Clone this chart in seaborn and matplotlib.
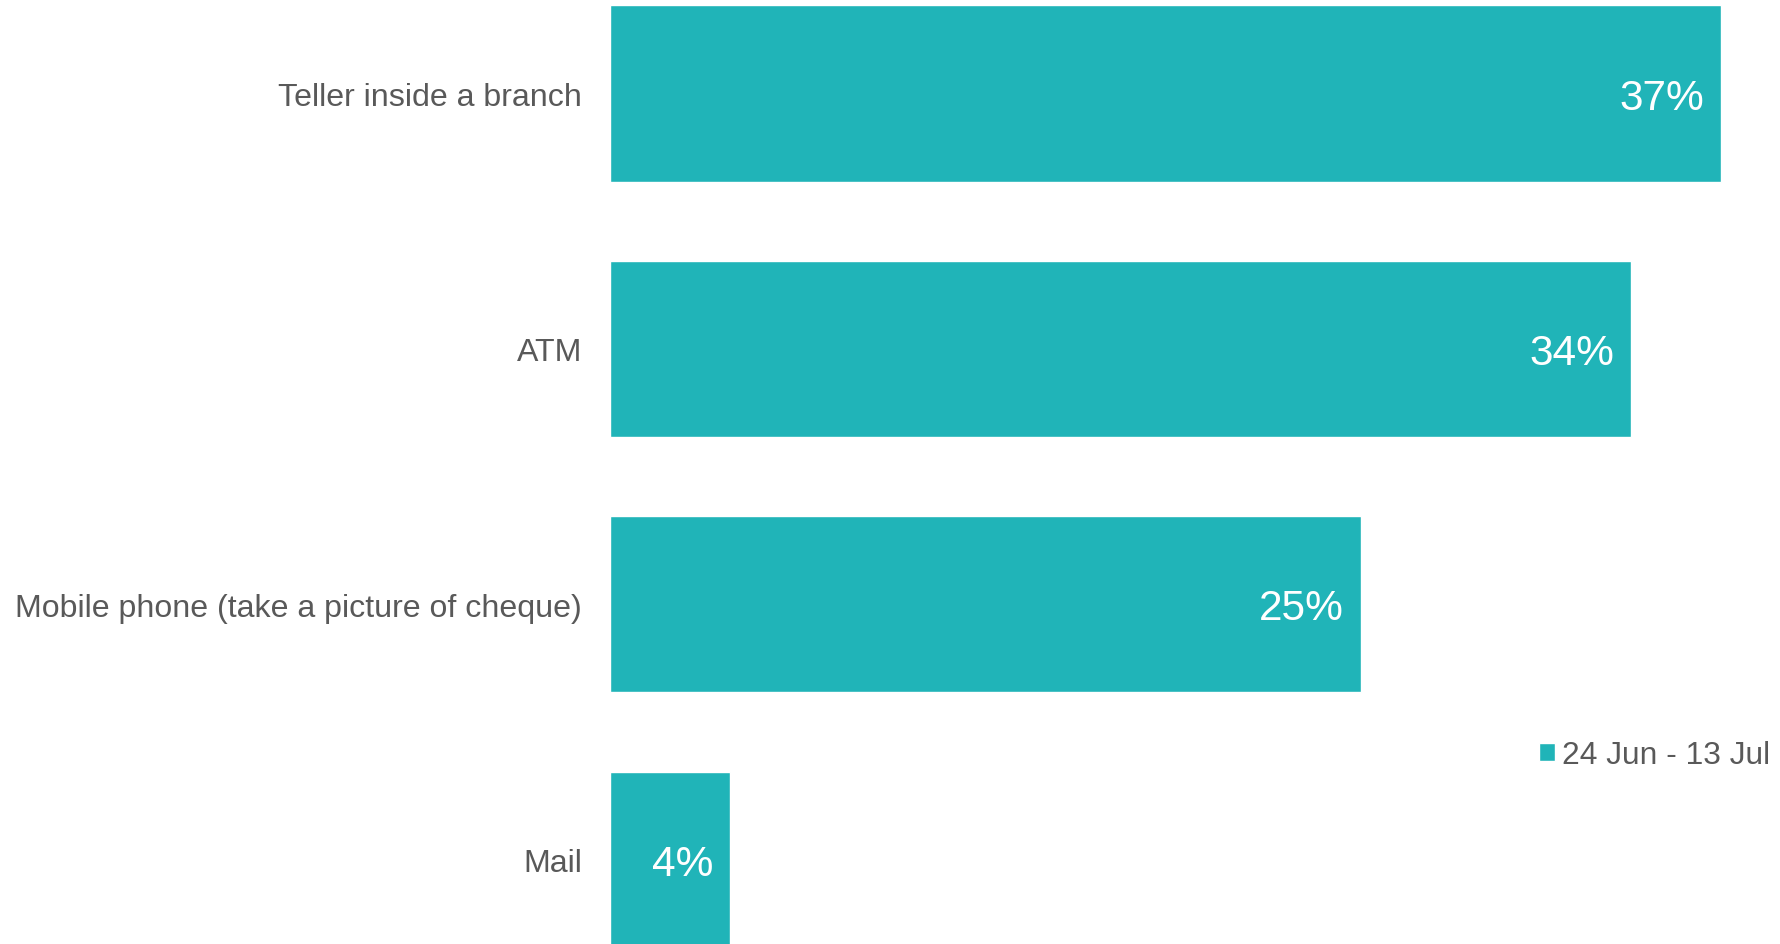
import matplotlib
matplotlib.use("Agg")
import matplotlib.pyplot as plt
import seaborn as sns
import pandas as pd

# Data
categories = ["Teller inside a branch", "ATM", "Mobile phone (take a picture of cheque)", "Mail"]
values = [37, 34, 25, 4]
period = "24 Jun - 13 Jul"

TEAL = "#20B4B8"
GREY = "#595959"

sns.set_theme(style="white")
plt.rcParams["font.family"] = ["Liberation Sans", "DejaVu Sans"]

df = pd.DataFrame({"channel": categories, "share": values, "period": [period] * len(categories)})

fig = plt.figure(figsize=(17.81, 9.45), dpi=100)
ax = fig.add_axes([0.3425, 0.0, 0.6575, 1.0])

sns.barplot(data=df, y="channel", x="share", hue="period", palette=[TEAL],
            orient="h", width=0.69, dodge=False, ax=ax, saturation=1, legend=True)

ax.set_xlim(0, 39)
ax.set_ylim(3.33, -0.37)

# value labels inside the bar ends
for i, v in enumerate(values):
    ax.annotate(f"{v}%", xy=(v, i), xytext=(-17, -4), textcoords="offset pixels",
                ha="right", va="center", color="white", fontsize=30.5)

ax.set_xlabel("")
ax.set_ylabel("")
ax.set_xticks([])
ax.tick_params(axis="y", length=0, pad=20, labelsize=23.1, labelcolor=GREY)
for s in ax.spines.values():
    s.set_visible(False)

# legend
leg = ax.get_legend()
if leg is not None:
    leg.remove()
handles, labels = ax.get_legend_handles_labels()
fig.legend(handles, labels, loc="center left",
           bbox_to_anchor=(1539 / 1781, 1 - 756 / 945), bbox_transform=fig.transFigure,
           frameon=False, borderpad=0, borderaxespad=0, handlelength=0.5, handleheight=0.5,
           handletextpad=0.22, fontsize=22.9, labelcolor=GREY)

fig.savefig("out.png", dpi=100)
